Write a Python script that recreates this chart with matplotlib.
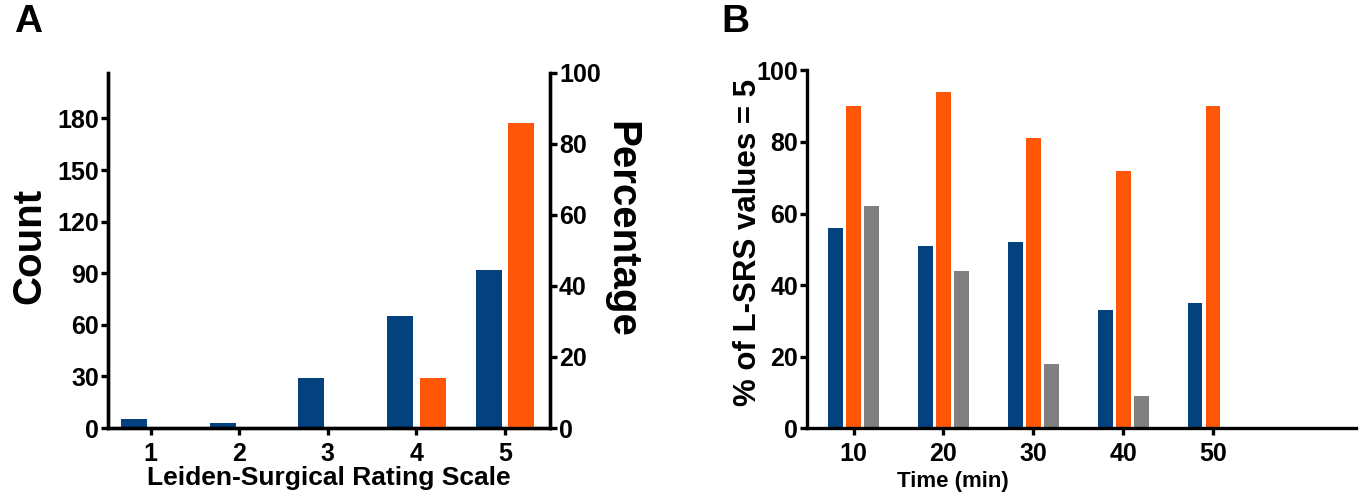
import numpy as np
import matplotlib
matplotlib.use('Agg')
import matplotlib.pyplot as plt

# Panel A data
scale = [1, 2, 3, 4, 5]
counts = [5, 3, 29, 65, 92]
percent = [0, 0, 0, 14, 86]

# Panel B data
times = [10, 20, 30, 40, 50]
blue_b = [56, 51, 52, 33, 35]
orange_b = [90, 94, 81, 72, 90]
gray_b = [62, 44, 18, 9, 0]

BLUE = '#03417F'
ORANGE = '#FF5607'
GRAY = '#808080'

plt.rcParams['font.family'] = 'Liberation Sans'
plt.rcParams['font.weight'] = 'bold'

LW = 2.4
TICK = 18
W, H = 1362, 492

fig = plt.figure(figsize=(13.62, 4.92), dpi=100)

def style_ticks(ax):
    ax.tick_params(axis='both', width=LW, length=5, pad=1.5, labelsize=TICK)
    ax.tick_params(axis='x', pad=5)

# ---- Panel A
axA = fig.add_axes([108 / W, 1 - 428 / H, 442 / W, 355 / H])
x = np.array(scale)
w = 0.294
axA.bar(x - 0.185, counts, w, color=BLUE, zorder=2)
axA.set_xlim(0.518, 5.508)
axA.set_ylim(0, 206.4)
axA.set_yticks(np.arange(0, 181, 30))
axA.set_xticks(scale)
axA.spines['top'].set_visible(False)
for s in ['left', 'bottom', 'right']:
    axA.spines[s].set_linewidth(LW)

axA2 = axA.twinx()
axA2.bar(x + 0.185, percent, w, color=ORANGE, zorder=2)
axA2.set_ylim(0, 100)
axA2.set_yticks(np.arange(0, 101, 20))
axA2.spines['top'].set_visible(False)
for s in ['left', 'bottom', 'right']:
    axA2.spines[s].set_linewidth(LW)

style_ticks(axA)
style_ticks(axA2)

fig.text(29 / W, 1 - 246 / H, 'Count', fontsize=29, fontweight='bold',
         rotation=90, ha='center', va='center')
fig.text(621 / W, 1 - 229 / H, 'Percentage', fontsize=29, fontweight='bold',
         rotation=-90, ha='center', va='center')
fig.text(329 / W, 1 - 466 / H, 'Leiden-Surgical Rating Scale', fontsize=19,
         fontweight='bold', ha='center', va='top')

# ---- Panel B
axB = fig.add_axes([807 / W, 1 - 428.3 / H, 549 / W, 358 / H])
t = np.array(times)
wb = 1.63
axB.bar(t - 2.0, blue_b, wb, color=BLUE)
axB.bar(t, orange_b, wb, color=ORANGE)
axB.bar(t + 2.0, gray_b, wb, color=GRAY)
axB.set_xlim(4.82, 65.9)
axB.set_ylim(0, 100)
axB.set_xticks(times)
axB.set_yticks(np.arange(0, 101, 20))
axB.spines['top'].set_visible(False)
axB.spines['right'].set_visible(False)
for s in ['left', 'bottom']:
    axB.spines[s].set_linewidth(LW)
style_ticks(axB)

fig.text(748 / W, 1 - 242 / H, '% of L-SRS values = 5', fontsize=22.5,
         fontweight='bold', rotation=90, ha='center', va='center')
fig.text(953 / W, 1 - 481 / H, 'Time (min)', fontsize=16, fontweight='bold',
         ha='center', va='center')

fig.text(28 / W, 1 - 22 / H, 'A', fontsize=28, fontweight='bold', ha='center', va='center')
fig.text(735 / W, 1 - 22 / H, 'B', fontsize=28, fontweight='bold', ha='center', va='center')

fig.savefig('out.png', dpi=100)
